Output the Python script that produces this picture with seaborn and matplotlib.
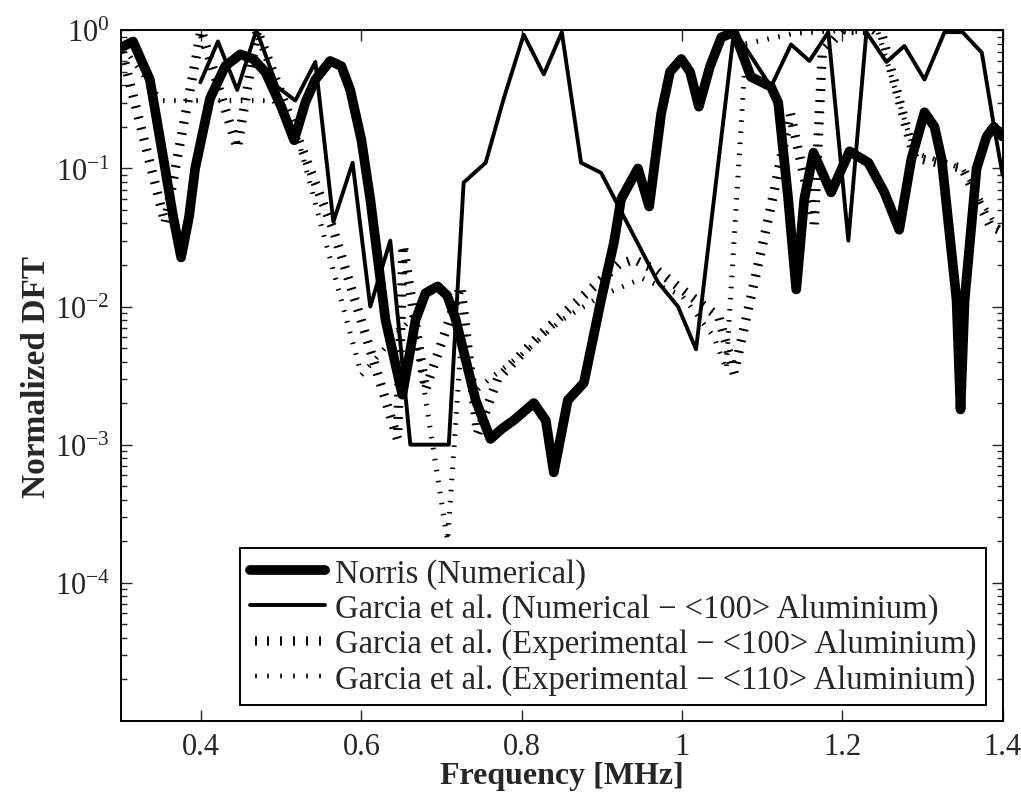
import numpy as np
import pandas as pd
import matplotlib
matplotlib.use("Agg")
import matplotlib.pyplot as plt
import matplotlib.patheffects as pe
import seaborn as sns

# ---- data ----
norris_f = [0.300, 0.315, 0.336, 0.355, 0.365, 0.375, 0.385, 0.3925, 0.411, 0.430, 0.449, 0.465, 0.480,
            0.500, 0.516, 0.530, 0.5425, 0.561, 0.575, 0.586, 0.600, 0.611, 0.630, 0.651, 0.660,
            0.6675, 0.680, 0.695, 0.707, 0.7175, 0.7425, 0.761, 0.775, 0.790, 0.815, 0.830,
            0.840, 0.8575, 0.8775, 0.899, 0.915, 0.924, 0.945, 0.959, 0.974, 0.985, 0.999, 1.010,
            1.021, 1.035, 1.049, 1.065, 1.086, 1.111, 1.120, 1.1325, 1.1425, 1.1525, 1.164, 1.186,
            1.209, 1.2325, 1.2525, 1.271, 1.286, 1.3025, 1.315, 1.324, 1.3425, 1.3475, 1.3525,
            1.3675, 1.380, 1.389, 1.400]
norris_v = [0.75, 0.83, 0.44, 0.10, 0.045, 0.0227, 0.045, 0.10, 0.32, 0.55, 0.67, 0.62, 0.50,
            0.28, 0.16, 0.30, 0.44, 0.60, 0.55, 0.37, 0.16, 0.06, 0.008, 0.0023, 0.0045,
            0.008, 0.0125, 0.014, 0.012, 0.0081, 0.0021, 0.0011, 0.0013, 0.0015, 0.0020, 0.0015,
            0.00063, 0.0021, 0.0028, 0.0112, 0.029, 0.06, 0.10, 0.053, 0.25, 0.50, 0.62, 0.50,
            0.28, 0.55, 0.89, 0.97, 0.46, 0.39, 0.30, 0.06, 0.0133, 0.06, 0.13, 0.067,
            0.133, 0.11, 0.067, 0.036, 0.116, 0.255, 0.20, 0.116, 0.0112, 0.0018, 0.011,
            0.10, 0.17, 0.20, 0.17]

garcia_num_f = [0.399, 0.421, 0.445, 0.469, 0.495, 0.5175, 0.5425, 0.565, 0.589, 0.611, 0.636, 0.661,
                0.709, 0.7275, 0.755, 0.7775, 0.8025, 0.8275, 0.850, 0.874, 0.899, 0.970, 0.995, 1.0175,
                1.065, 1.111, 1.136, 1.159, 1.1825, 1.2075, 1.230, 1.255, 1.2775, 1.3025, 1.3275, 1.350,
                1.374, 1.390, 1.400]
garcia_num_v = [0.42, 0.83, 0.37, 1.0, 0.39, 0.31, 0.59, 0.041, 0.11, 0.010, 0.030, 0.001,
                0.001, 0.079, 0.11, 0.32, 0.93, 0.48, 0.97, 0.11, 0.093, 0.015, 0.010, 0.0049,
                1.0, 0.39, 0.79, 0.60, 0.97, 0.030, 0.97, 0.59, 0.77, 0.44, 0.97, 0.97,
                0.69, 0.19, 0.09]

exp100_f = [0.300, 0.355, 0.400, 0.445, 0.470, 0.520, 0.565, 0.645, 0.652, 0.680, 0.724, 0.745,
            0.770, 0.820, 0.870, 0.920, 0.940, 0.970, 1.010, 1.046, 1.065, 1.110, 1.135, 1.165,
            1.175, 1.200, 1.240, 1.250, 1.290, 1.350, 1.385, 1.400]
exp100_v = [0.75, 0.04, 1.0, 0.14, 1.0, 0.17, 0.036, 0.0011, 0.028, 0.0025, 0.014, 0.0012,
            0.003, 0.006, 0.011, 0.020, 0.022, 0.018, 0.012, 0.0084, 0.0033, 0.05, 0.25, 0.04,
            0.7, 1.0, 1.0, 0.9, 0.12, 0.10, 0.038, 0.035]

exp110_f = [0.300, 0.350, 0.490, 0.520, 0.600, 0.664, 0.7075, 0.724, 0.745, 0.760, 0.800, 0.850,
            0.900, 0.950, 1.000, 1.040, 1.055, 1.080, 1.140, 1.200, 1.245, 1.290, 1.350, 1.390,
            1.400]
exp110_v = [0.8, 0.31, 0.31, 0.17, 0.0032, 0.0085, 0.0002, 0.005, 0.0025, 0.003, 0.0045, 0.008,
            0.012, 0.016, 0.012, 0.006, 0.0035, 0.8, 0.95, 1.0, 0.95, 0.13, 0.10, 0.04,
            0.035]

labels = ["Norris (Numerical)",
          "Garcia et al. (Numerical \u2212 <100> Aluminium)",
          "Garcia et al. (Experimental \u2212 <100> Aluminium)",
          "Garcia et al. (Experimental \u2212 <110> Aluminium)"]
x_ticks = [0.4, 0.6, 0.8, 1.0, 1.2, 1.4]
x_ticklabels = ["0.4", "0.6", "0.8", "1", "1.2", "1.4"]
y_ticks = [1e-4, 1e-3, 1e-2, 1e-1, 1e0]

# ---- style ----
sns.set_style("ticks")
plt.rcParams["font.family"] = ["Liberation Serif", "DejaVu Serif"]
plt.rcParams["mathtext.fontset"] = "custom"
plt.rcParams["mathtext.rm"] = "Liberation Serif"
plt.rcParams["mathtext.it"] = "Liberation Serif:italic"
plt.rcParams["mathtext.bf"] = "Liberation Serif:bold"

fig = plt.figure(figsize=(10.21, 8.03), dpi=100)
ax = fig.add_axes([0.1185, 0.101, 0.8635, 0.860])

def ticked(length, lw):
    # centred perpendicular ticks, no base line (MATLAB-like rendering)
    return [pe.TickedStroke(angle=90, spacing=8, length=length, linewidth=lw),
            pe.TickedStroke(angle=-90, spacing=8, length=length, linewidth=lw)]

sns.lineplot(x=norris_f, y=norris_v, ax=ax, color="black", lw=7, label=labels[0],
             estimator=None, sort=False, solid_capstyle="round", solid_joinstyle="round")
sns.lineplot(x=garcia_num_f, y=garcia_num_v, ax=ax, color="black", lw=2.8, label=labels[1],
             estimator=None, sort=False)
sns.lineplot(x=exp100_f, y=exp100_v, ax=ax, color="black", lw=1.4, label=labels[2],
             estimator=None, sort=False, path_effects=ticked(0.36, 1.4))
sns.lineplot(x=exp110_f, y=exp110_v, ax=ax, color="black", lw=1.1, label=labels[3],
             estimator=None, sort=False, path_effects=ticked(0.18, 1.1))

ax.set_yscale("log")
ax.set_xlim(0.3, 1.4)
ax.set_ylim(1e-5, 1e0)
ax.set_xticks(x_ticks)
ax.set_xticklabels(x_ticklabels)
ax.set_yticks(y_ticks)
ax.yaxis.set_minor_locator(matplotlib.ticker.LogLocator(base=10, subs=np.arange(2, 10), numticks=20))
ax.yaxis.set_minor_formatter(matplotlib.ticker.NullFormatter())

for s in ax.spines.values():
    s.set_linewidth(1.4)
    s.set_color("black")
ax.tick_params(axis="both", which="major", direction="in", length=8, width=1.0,
               top=True, right=True, labelsize=22, pad=8)
ax.tick_params(axis="y", which="minor", direction="in", length=4, width=1.0, left=True, right=True)
ax.tick_params(axis="x", which="minor", bottom=False, top=False)

ax.set_xlabel("Frequency [MHz]", fontsize=23, fontweight="bold", labelpad=0)
ax.set_ylabel("Normalized DFT", fontsize=24, fontweight="bold", labelpad=2)

leg = ax.legend(loc="lower right", fontsize=23.5, handlelength=2.3, handletextpad=0.3,
                labelspacing=0.14, borderpad=0.3, borderaxespad=0.5, frameon=True,
                fancybox=False, edgecolor="black", framealpha=1)
leg.get_frame().set_linewidth(1.4)

fig.savefig("out.png", dpi=100, facecolor="white")
